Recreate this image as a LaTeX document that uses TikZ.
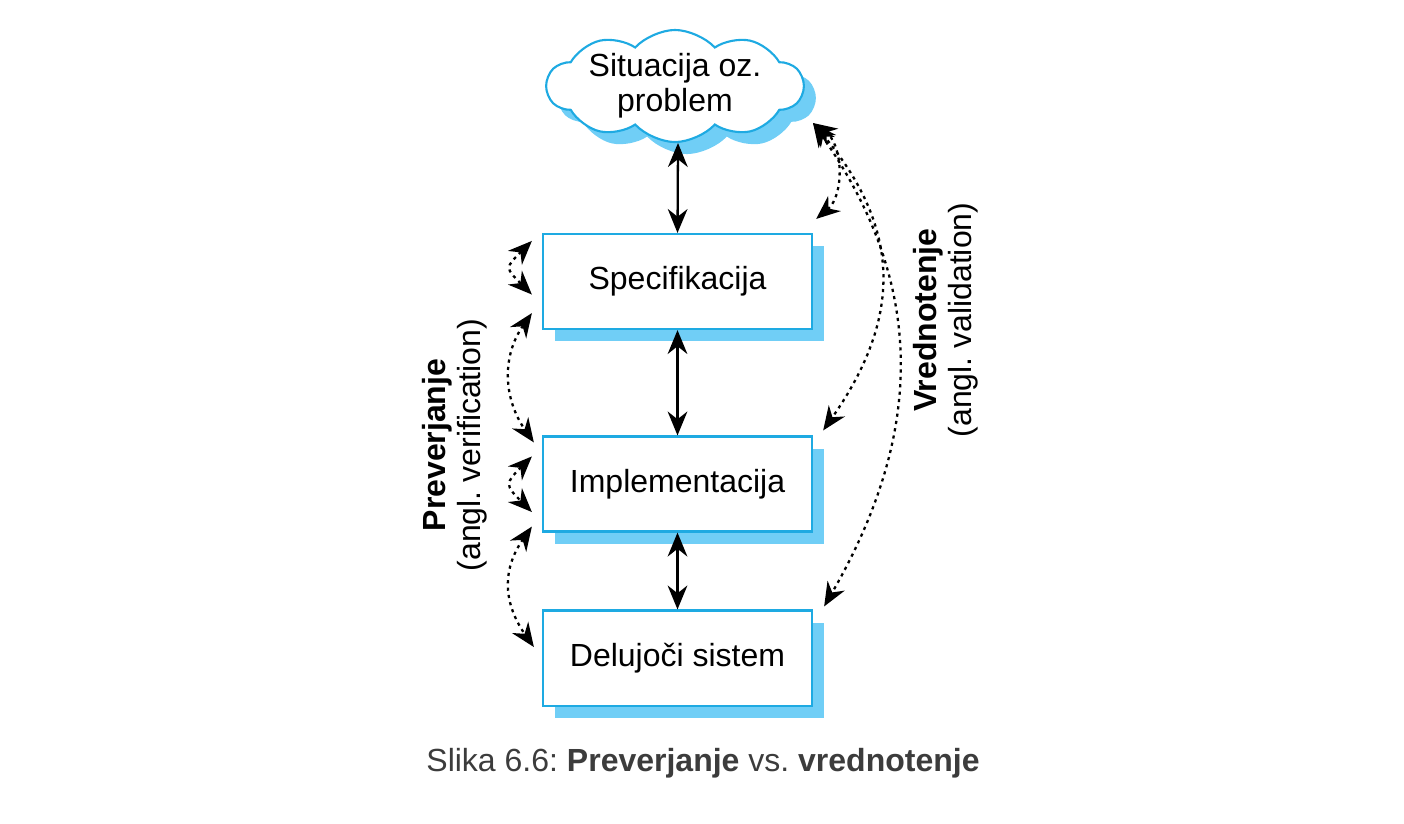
\documentclass[tikz,border=0pt]{standalone}
\usepackage{fontspec}
\setmainfont{Liberation Sans}
\usepackage{tikz}
\usetikzlibrary{positioning,arrows.meta,shapes.symbols,shadows}
\definecolor{boxblue}{RGB}{30,170,226}
\definecolor{shadowblue}{RGB}{112,206,246}
\definecolor{captiongray}{RGB}{60,60,60}
\frenchspacing

\begin{document}
\begin{tikzpicture}[x=0.01cm, y=0.01cm,
  every node/.style={font=\fontsize{9.1}{10}\selectfont},
  blueshadow/.style={drop shadow={shadow xshift=0.12cm, shadow yshift=-0.12cm, fill=shadowblue, opacity=1}},
  stagebox/.style={draw=boxblue, line width=0.6pt, fill=white, minimum width=2.69cm, minimum height=0.95cm, blueshadow},
  biarrow/.style={{Stealth[length=6.8pt,width=5.6pt,inset=2.2pt]}-{Stealth[length=6.8pt,width=5.6pt,inset=2.2pt]}, line width=0.65pt},
  dotarrow/.style={biarrow, dash pattern=on 0.9pt off 1.2pt}]
  \useasboundingbox (0,0) rectangle (1404,-823);
  % Problem cloud
  \node[cloud, cloud puffs=10, cloud puff arc=95, cloud ignores aspect, draw=boxblue, line width=0.6pt, fill=white,
    inner sep=0pt, minimum width=2.56cm, minimum height=1.12cm, blueshadow] (problem) at (675,-86) {};
  \node[align=center] (problemtext) at (problem.center) {Situacija oz.\\problem};
  \coordinate (cloudbase) at (678,-143);
  % Stages
  \node[stagebox] (spec) at (677.5,-281.5) {Specifikacija};
  \node[stagebox] (impl) at (677.5,-484) {Implementacija};
  \node[stagebox] (system) at (677.5,-658) {Delujoči sistem};
  % Main flow
  \draw[biarrow] (cloudbase) -- (spec.north);
  \draw[biarrow] (spec.south) -- (impl.north);
  \draw[biarrow] (impl.south) -- (system.north);
  % Verification (left)
  \draw[dotarrow] ([shift={(-10,-8)}]spec.north west) to[out=225, in=135, distance=0.38cm] ([shift={(-10,-13)}]spec.west);
  \draw[dotarrow] ([shift={(-10,17)}]spec.south west) to[out=235, in=125, distance=0.53cm] ([shift={(-8,-7)}]impl.north west);
  \draw[dotarrow] ([shift={(-10,-21)}]impl.north west) to[out=225, in=135, distance=0.38cm] ([shift={(-10,-28)}]impl.west);
  \draw[dotarrow] ([shift={(-10,6)}]impl.south west) to[out=235, in=125, distance=0.53cm] ([shift={(-8,11)}]system.west);
  % Validation (right)
  \coordinate (vtip) at (813,-123);
  \draw[dotarrow] (vtip) to[out=-35, in=40, distance=0.37cm] ([shift={(3,14)}]spec.north east);
  \draw[dotarrow] (vtip) to[out=-50, in=55, distance=1.38cm] ([shift={(10,5)}]impl.north east);
  \draw[dotarrow] (vtip) to[out=-55, in=60, distance=1.99cm] ([shift={(11,3)}]system.north east);
  % Side labels
  \node[rotate=90, align=center] (verif) at (455,-445) {\textbf{Preverjanje}\\(angl. verification)};
  \node[rotate=90, align=center] (valid) at (946,-320) {\textbf{Vrednotenje}\\(angl. validation)};
  % Caption
  \node[text=captiongray] (caption) at (703,-763) {Slika 6.6: \textbf{Preverjanje} vs. \textbf{vrednotenje}};
\end{tikzpicture}
\end{document}
